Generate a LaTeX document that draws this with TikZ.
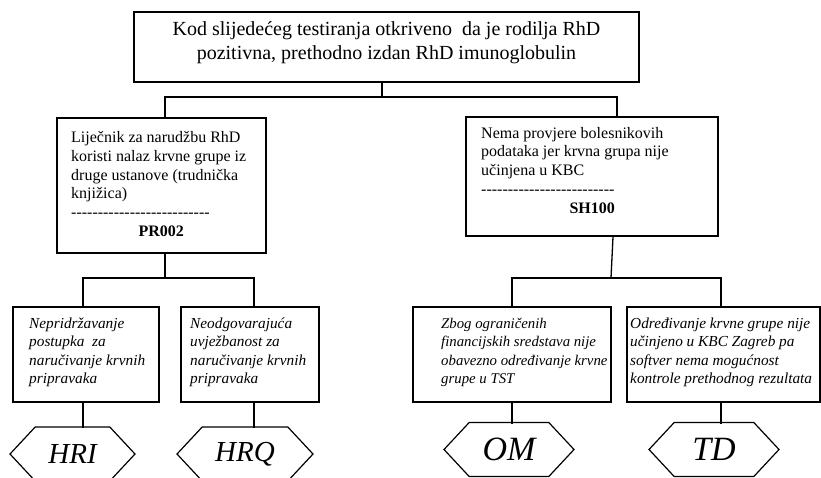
\documentclass[tikz,border=0pt]{standalone}
\usepackage{fontspec}
\setmainfont{Liberation Serif}
\newfontfamily\dashfont{Liberation Serif}
\usetikzlibrary{shapes.symbols}
\newcommand\boxtxt[2]{\parbox[t]{#1}{\raggedright\fontsize{15.3}{18.5}\selectfont #2}}
\newcommand\boxtxtc[2]{\parbox[t]{#1}{\raggedright\fontsize{14.8}{18.5}\selectfont #2}}
\newcommand\boxtxtb[2]{\parbox[t]{#1}{\raggedright\fontsize{16}{18.8}\selectfont #2}}
\begin{document}
\begin{tikzpicture}[x=1pt,y=-1pt,
  box/.style={draw, line width=1.6pt, rectangle, inner sep=0pt},
  txt/.style={inner sep=0pt, anchor=base west},
  conn/.style={line width=1.3pt},
  hexa/.style={draw, signal, signal to=west and east, signal pointer angle=94,
     line width=1.2pt, minimum height=54pt, inner sep=0pt, font=\fontsize{29}{30}\selectfont\itshape},
  hexb/.style={hexa, font=\fontsize{34}{36}\selectfont\itshape}]
\path[use as bounding box, fill=white] (0,0) rectangle (821,477);
% boxes
\node[box, minimum width=505pt, minimum height=70pt] (top) at (386.5,47) {};
\node[inner sep=0pt, anchor=base] (toptxt) at (386.5,35.5)
  {\parbox[t]{505pt}{\centering\fontsize{20}{24}\selectfont Kod slijedećeg testiranja otkriveno \ da je rodilja RhD\\pozitivna, prethodno izdan RhD imunoglobulin}};
\node[box, minimum width=209pt, minimum height=135pt] (L1) at (161.5,185.5) {};
\node[txt] (L1txt) at (71,142.5) {\boxtxtb{180pt}{Liječnik za narudžbu RhD\\koristi nalaz krvne grupe iz\\druge ustanove (trudnička\\knjižica)\\{\dashfont --------------------------}\par{\centering\textbf{PR002}\par}}};
\node[box, minimum width=252pt, minimum height=119pt] (R1) at (592,176.5) {};
\node[txt] (R1txt) at (481,138) {\boxtxtb{222pt}{Nema provjere bolesnikovih\\podataka jer krvna grupa nije\\učinjena u KBC\\{\dashfont -------------------------}\par{\centering\textbf{SH100}\par}}};
\node[box, minimum width=146pt, minimum height=95pt] (A) at (86,354.5) {};
\node[txt] (Atxt) at (29,328) {\boxtxt{128pt}{\itshape Nepridržavanje\\postupka \ za\\naručivanje krvnih\\pripravaka}};
\node[box, minimum width=138pt, minimum height=95pt] (B) at (250,354.5) {};
\node[txt] (Btxt) at (190,328) {\boxtxt{128pt}{\itshape Neodgovarajuća\\uvježbanost za\\naručivanje krvnih\\pripravaka}};
\node[box, minimum width=198pt, minimum height=95pt] (C) at (512,354.5) {};
\node[txt] (Ctxt) at (441,328) {\boxtxtc{200pt}{\itshape Zbog ograničenih\\financijskih sredstava nije\\obavezno određivanje krvne\\grupe u TST}};
\node[box, minimum width=193pt, minimum height=95pt] (D) at (723.5,354.5) {};
\node[txt] (Dtxt) at (630,328) {\boxtxt{200pt}{\itshape Određivanje krvne grupe nije\\učinjeno u KBC Zagreb pa\\softver nema mogućnost\\kontrole prethodnog rezultata}};
% hexagons
\node[hexa, minimum width=125pt] (hA) at (72.5,454) {HRI};
\node[hexa, minimum width=136pt] (hB) at (245,454) {HRQ};
\node[hexb, minimum width=130pt] (hC) at (509,449.5) {OM};
\node[hexb, minimum width=130pt] (hD) at (714,449.5) {TD};
% junctions
\coordinate (j1) at (382,97);
\coordinate (j2) at (165,278);
\coordinate (j3) at (611,278);
% connectors
\draw[conn] ([xshift=-4.5pt]top.south) -- (j1);
\draw[conn] ([xshift=3.5pt]L1.north) |- (j1) -| ([xshift=25pt]R1.north);
\draw[conn] ([xshift=3.5pt]L1.south) -- (j2);
\draw[conn] ([xshift=-3pt]A.north) |- (j2) -| ([xshift=4pt]B.north);
\draw[conn] ([xshift=21pt]R1.south) -- (j3);
\draw[conn] (C.north) |- (j3) -| ([xshift=-2.5pt]D.north);
\draw[conn] ([xshift=-3pt]A.south) -- ++(0,25);
\draw[conn] ([xshift=4pt]B.south) -- ++(0,25);
\draw[conn] (C.south) -- ++(0,21);
\draw[conn] ([xshift=-2.5pt]D.south) -- ++(0,21);
\end{tikzpicture}
\end{document}
